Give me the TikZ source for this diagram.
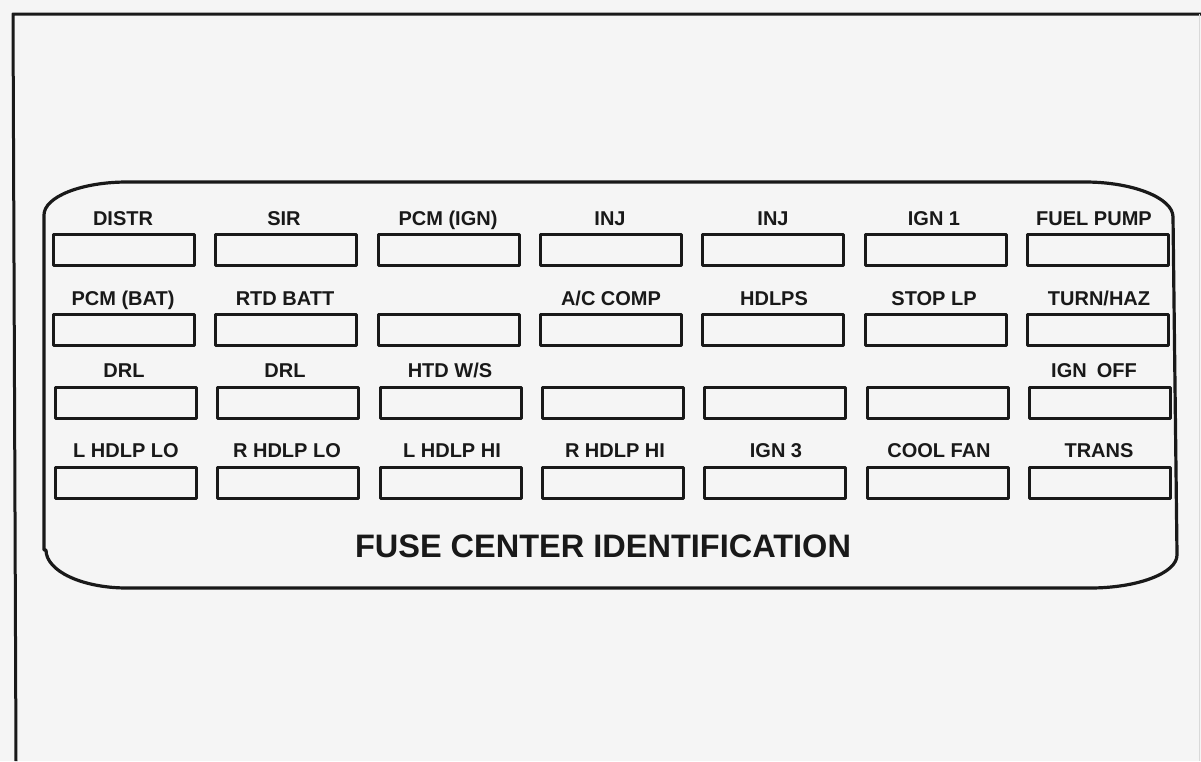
\documentclass[tikz,border=0pt]{standalone}
\usepackage{fontspec}
\setmainfont{Liberation Sans}
\definecolor{bg}{RGB}{245,245,245}
\definecolor{ink}{RGB}{25,25,25}
\begin{document}
\begin{tikzpicture}[x=1pt,y=-1pt,line join=round,
  fuse/.style={draw=ink,line width=3.1pt,minimum width=141pt,minimum height=31pt,inner sep=0pt,anchor=north west},
  lab/.style={font=\fontsize{20}{24}\selectfont\bfseries,anchor=base,inner sep=0pt,text=ink},
  title/.style={font=\fontsize{32.5}{38}\selectfont\bfseries,anchor=base,inner sep=0pt,text=ink},
  frame/.style={draw=ink,line width=3pt},
  panel/.style={draw=ink,line width=3.2pt}]
\fill[bg] (0,0) rectangle (1201,761);
\useasboundingbox (0,0) rectangle (1201,761);
% outer frame
\coordinate (fbl) at (16,761);
\coordinate (ftl) at (13,14);
\coordinate (ftr) at (1201,14);
\draw[frame] (fbl) -- (ftl) -- (ftr);
\draw[draw=black!15,line width=1pt] (1199.5,14) -- (1199.5,761);
% panel
\draw[panel] (44,550) -- (44,215)
  .. controls (44,197) and (81,182) .. (127,182)
  -- (1085,182)
  .. controls (1133,182) and (1173,198) .. (1173,217)
  -- (1177,555)
  .. controls (1177,573) and (1138,588) .. (1090,588)
  -- (127,588)
  .. controls (82,588) and (46,571) .. (46,550) -- cycle;
% fuses
\foreach \r/\y in {1/233,2/313,3/386,4/466}{
  \foreach \c in {1,...,7}{
    \node[fuse] (f\r\c) at ({52+162.3*(\c-1)+(\r>2?2:0)},\y) {};
  }
}
% row 1 labels
\node[lab] (l11) at (123,225) {DISTR};
\node[lab] (l12) at (284,225) {SIR};
\node[lab] (l13) at (448,225) {PCM (IGN)};
\node[lab] (l14) at (610,225) {INJ};
\node[lab] (l15) at (773,225) {INJ};
\node[lab] (l16) at (934,225) {IGN 1};
\node[lab] (l17) at (1094,225) {FUEL PUMP};
% row 2 labels
\node[lab] (l21) at (123,305.5) {PCM (BAT)};
\node[lab] (l22) at (285,305.5) {RTD BATT};
\node[lab] (l24) at (611,305.5) {A/C COMP};
\node[lab] (l25) at (774,305.5) {HDLPS};
\node[lab] (l26) at (934,305.5) {STOP LP};
\node[lab] (l27) at (1099,305.5) {TURN/HAZ};
% row 3 labels
\node[lab] (l31) at (124,377.5) {DRL};
\node[lab] (l32) at (285,377.5) {DRL};
\node[lab] (l33) at (450,377.5) {HTD W/S};
\node[lab] (l37) at (1094,377.5) {IGN\hspace{0.5em}OFF};
% row 4 labels
\node[lab] (l41) at (126,457.5) {L HDLP LO};
\node[lab] (l42) at (287,457.5) {R HDLP LO};
\node[lab] (l43) at (452,457.5) {L HDLP HI};
\node[lab] (l44) at (615,457.5) {R HDLP HI};
\node[lab] (l45) at (776,457.5) {IGN 3};
\node[lab] (l46) at (939,457.5) {COOL FAN};
\node[lab] (l47) at (1099,457.5) {TRANS};
% title
\node[title] (ttl) at (603,557) {FUSE CENTER IDENTIFICATION};
\end{tikzpicture}
\end{document}
